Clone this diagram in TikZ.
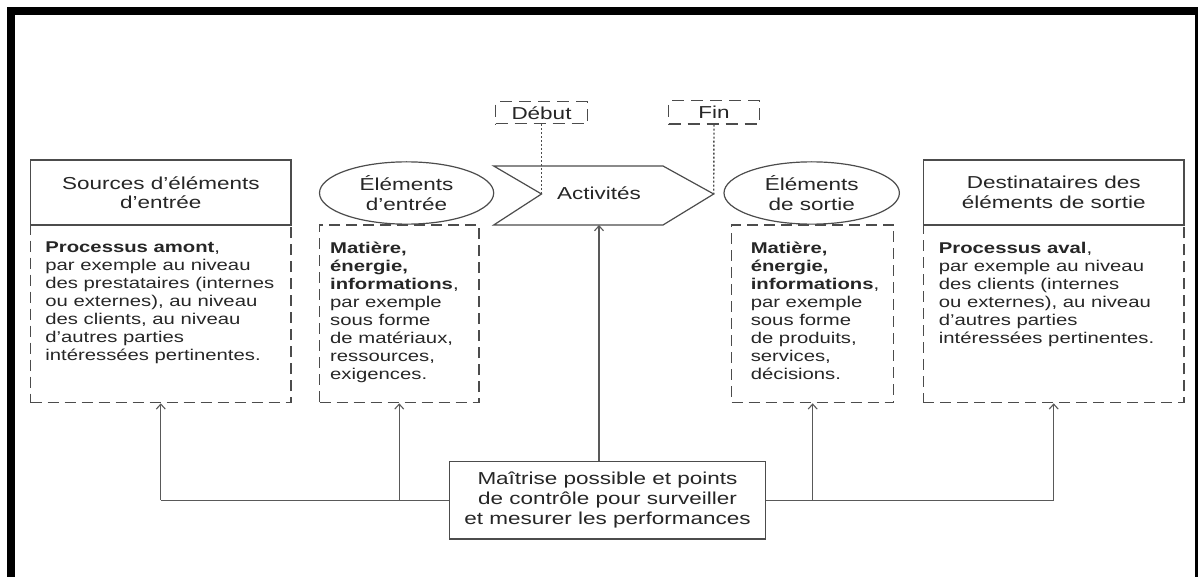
\documentclass[tikz,border=0pt]{standalone}
\usepackage{fontspec}
\setmainfont[FakeStretch=1.30]{Liberation Sans}
\usetikzlibrary{shapes.geometric,arrows.meta,calc}

\begin{document}
\begin{tikzpicture}[x=1pt,y=-1pt,
  hdr/.style={draw=black!70, line width=1.2pt, align=center, text=black!85,
    inner sep=0pt, font=\fontsize{17.3}{19.5}\selectfont},
  bodybox/.style={draw=black!70, line width=1.2pt, dash pattern=on 11pt off 6pt,
    inner sep=0pt, minimum height=177.7pt},
  bodytext/.style={font=\fontsize{15.6}{18}\selectfont, align=left, text=black!85,
    inner sep=0pt, anchor=north west},
  ell/.style={ellipse, draw=black!70, line width=1.2pt, align=center, text=black!85,
    inner sep=0pt, minimum height=62.3pt, font=\fontsize{17.3}{19.5}\selectfont},
  tagbox/.style={draw=black!70, line width=1.1pt, dash pattern=on 12pt off 7pt,
    text=black!85, inner sep=0pt, font=\fontsize{17.3}{19.5}\selectfont},
  link/.style={draw=black!65, line width=1.1pt},
  arr/.style={link, -{Straight Barb[length=5pt,width=9pt]}},
  dots/.style={draw=black!70, line width=1.4pt, dash pattern=on 2pt off 2pt}
]
\useasboundingbox (0,0) rectangle (1198,577);

% black frame (open at the bottom)
\fill[black] (7,7) rectangle (15,577);
\fill[black] (7,7) rectangle (1197.5,15);
\fill[black] (1194.5,7) rectangle (1197.5,577);

% dashed bodies below the headers
\node[bodybox, minimum width=260.4pt] (srcbody) at (160.8,313.85) {};
\node[bodybox, minimum width=159.5pt] (inbody)  at (399.25,313.85) {};
\node[bodybox, minimum width=162.1pt] (outbody) at (812.65,313.85) {};
\node[bodybox, minimum width=260.6pt] (dstbody) at (1053.7,313.85) {};

% headers
\node[hdr, fill=white, minimum width=260.4pt, minimum height=65pt] (src) at (160.8,192.5)
  {Sources d’éléments\\d’entrée};
\node[hdr, fill=white, minimum width=260.6pt, minimum height=65pt] (dst) at (1053.7,192.5)
  {Destinataires des\\éléments de sortie};
\node[ell, minimum width=174.2pt] (inel)  at (406.6,193) {Éléments\\d’entrée};
\node[ell, minimum width=175.4pt] (outel) at (811.7,193) {Éléments\\de sortie};

% activity chevron
\coordinate (notch) at (541.5,194);
\coordinate (tip) at (713.7,194);
\coordinate (actbot) at (599,225);
\draw[draw=black!70, line width=1.2pt] (493.7,166) -- (663,166) -- (tip) -- (663,225)
  -- (493.7,225) -- (notch) -- cycle;
\node[text=black!85, font=\fontsize{17.3}{19.5}\selectfont, inner sep=0pt] (act) at (599,193) {Activités};

% start / end tags
\node[tagbox, minimum width=91.8pt, minimum height=22.3pt] (deb) at (541.5,112.8) {Début};
\node[tagbox, minimum width=90.8pt, minimum height=23.3pt] (fin) at (714,112.4) {Fin};
\draw[dots] (deb.south) -- (notch);
\draw[dots] (fin.south) -- (tip);

% body texts
\node[bodytext] (srctext) at (45.2,241.5) {\textbf{Processus amont},\\par exemple au niveau\\des prestataires (internes\\ou externes), au niveau\\des clients, au niveau\\d’autres parties\\intéressées pertinentes.};
\node[bodytext] (intext) at (330,241.5) {\textbf{Matière,}\\\textbf{énergie,}\\\textbf{informations},\\par exemple\\sous forme\\de matériaux,\\ressources,\\exigences.};
\node[bodytext] (outtext) at (750.6,241.5) {\textbf{Matière,}\\\textbf{énergie,}\\\textbf{informations},\\par exemple\\sous forme\\de produits,\\services,\\décisions.};
\node[bodytext] (dsttext) at (938.7,241.5) {\textbf{Processus aval},\\par exemple au niveau\\des clients (internes\\ou externes), au niveau\\d’autres parties\\intéressées pertinentes.};

% control box
\node[hdr, fill=white, minimum width=316.4pt, minimum height=77.3pt,
  font=\fontsize{17.3}{20}\selectfont] (ctrl) at (607.5,500.3)
  {Maîtrise possible et points\\de contrôle pour surveiller\\et mesurer les performances};

% control connectors
\draw[link] (ctrl.west) -- (ctrl.west -| srcbody.south);
\draw[arr] (ctrl.west -| srcbody.south) -- (srcbody.south);
\draw[arr] (ctrl.west -| inbody.south) -- (inbody.south);
\draw[link] (ctrl.east) -- (ctrl.east -| dstbody.south);
\draw[arr] (ctrl.east -| outbody.south) -- (outbody.south);
\draw[arr] (ctrl.east -| dstbody.south) -- (dstbody.south);
\draw[arr] (ctrl.north -| actbot) -- (actbot);
\end{tikzpicture}
\end{document}
